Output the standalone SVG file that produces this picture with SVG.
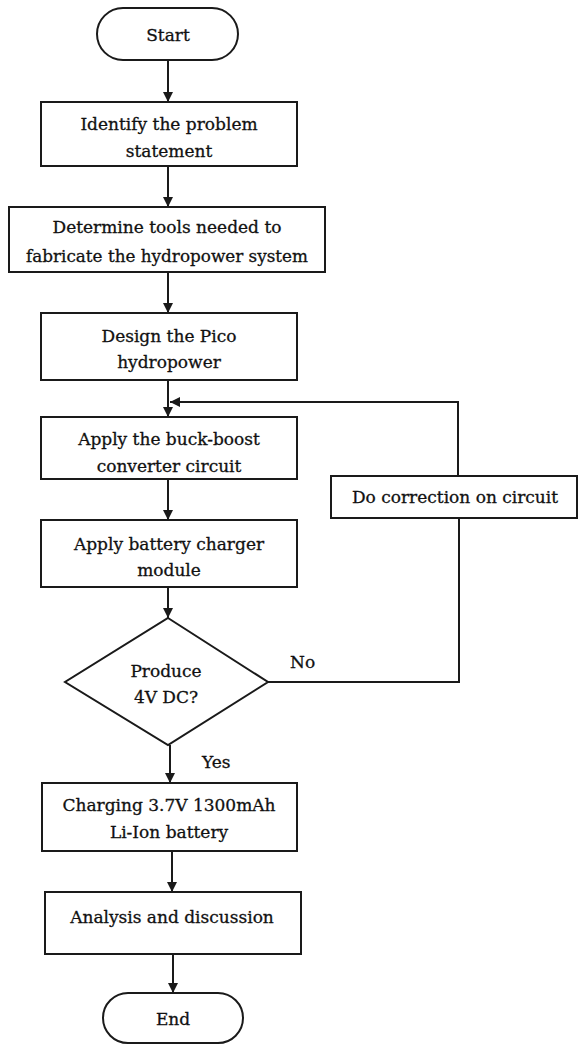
<svg xmlns="http://www.w3.org/2000/svg" width="578" height="1045" viewBox="0 0 578 1045">
<style>
.box{fill:#fff;stroke:#1a1a1a;stroke-width:2}
.t{font-family:'DejaVu Serif',serif;font-size:17px;fill:#111;stroke:#111;stroke-width:0.3;text-anchor:middle}
.tl{font-family:'DejaVu Serif',serif;font-size:17px;fill:#111;stroke:#111;stroke-width:0.3}
.c{fill:none;stroke:#1a1a1a;stroke-width:2}
</style>
<defs>
<marker id="ah" markerUnits="userSpaceOnUse" markerWidth="10" markerHeight="10" refX="10" refY="5" orient="auto">
<path d="M0,0 L10,5 L0,10 z" fill="#1a1a1a"/>
</marker>
</defs>
<rect width="578" height="1045" fill="#fff"/>
<g id="connectors">
<path class="c" d="M168,60 V102" marker-end="url(#ah)"/>
<path class="c" d="M168,166 V207" marker-end="url(#ah)"/>
<path class="c" d="M168,272 V313" marker-end="url(#ah)"/>
<path class="c" d="M168,380 V417" marker-end="url(#ah)"/>
<path class="c" d="M458,476 V402 H170" marker-end="url(#ah)"/>
<path class="c" d="M168,479 V520" marker-end="url(#ah)"/>
<path class="c" d="M168,587 V618" marker-end="url(#ah)"/>
<path class="c" d="M268,682 H459 V518"/>
<path class="c" d="M170,745 V783" marker-end="url(#ah)"/>
<path class="c" d="M172,851 V892" marker-end="url(#ah)"/>
<path class="c" d="M173,954 V993" marker-end="url(#ah)"/>
</g>
<g id="start"><rect class="box" x="97" y="8" width="141" height="52" rx="26"/><text class="t" x="168" y="41">Start</text></g>
<g id="identify"><rect class="box" x="41" y="102" width="256" height="64"/><text class="t" x="169" y="130">Identify the problem</text><text class="t" x="169" y="157">statement</text></g>
<g id="determine"><rect class="box" x="9" y="207" width="316" height="65"/><text class="t" x="167" y="233">Determine tools needed to</text><text class="t" x="167" y="262" textLength="282" lengthAdjust="spacingAndGlyphs">fabricate the hydropower system</text></g>
<g id="design"><rect class="box" x="41" y="313" width="256" height="67"/><text class="t" x="169" y="342">Design the Pico</text><text class="t" x="169" y="368">hydropower</text></g>
<g id="buckboost"><rect class="box" x="41" y="417" width="256" height="62"/><text class="t" x="169" y="445">Apply the buck-boost</text><text class="t" x="169" y="472">converter circuit</text></g>
<g id="charger"><rect class="box" x="41" y="520" width="256" height="67"/><text class="t" x="169" y="550">Apply battery charger</text><text class="t" x="169" y="576">module</text></g>
<g id="decision"><path class="box" d="M168,618 L268,682 L168,745 L65,682 Z"/><text class="t" x="166" y="677">Produce</text><text class="t" x="166" y="703">4V DC?</text></g>
<g id="correction"><rect class="box" x="331" y="476" width="246" height="42"/><text class="t" x="455" y="503">Do correction on circuit</text></g>
<g id="charging"><rect class="box" x="42" y="783" width="255" height="68"/><text class="t" x="169" y="811">Charging 3.7V 1300mAh</text><text class="t" x="169" y="838">Li-Ion battery</text></g>
<g id="analysis"><rect class="box" x="45" y="892" width="256" height="62"/><text class="t" x="172" y="923">Analysis and discussion</text></g>
<g id="end"><rect class="box" x="103" y="993" width="140" height="50" rx="25"/><text class="t" x="173" y="1025">End</text></g>
<g id="labels"><text class="tl" x="290" y="668">No</text><text class="tl" x="202" y="768">Yes</text></g>
</svg>
